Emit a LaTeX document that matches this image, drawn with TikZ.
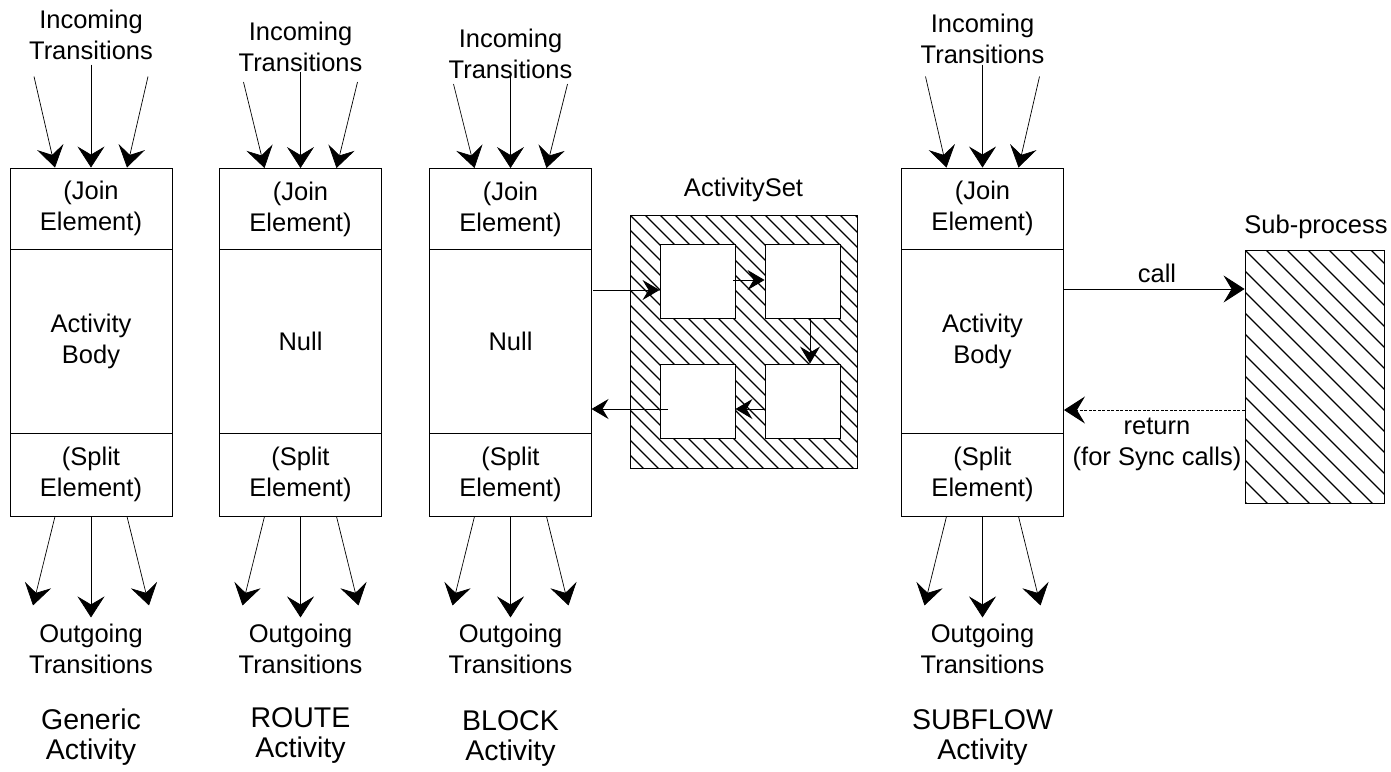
\documentclass[tikz,border=0pt]{standalone}
\usepackage{fontspec}
\setmainfont{Liberation Sans}
\usetikzlibrary{arrows.meta,calc}

\tikzset{
  lbl/.style={align=center, inner sep=0pt, font=\fontsize{25.5}{31}\selectfont},
  ttl/.style={align=center, inner sep=0pt, font=\fontsize{28.5}{29.5}\selectfont},
  sect/.style={draw, line width=0.9pt, minimum width=162pt, inner sep=0pt,
    align=center, font=\fontsize{25.5}{31}\selectfont},
  tip/.style={-{Stealth[length=21pt,width=27pt,inset=8pt]}},
  tr/.style={line width=0.7pt, tip},
  smalltr/.style={line width=0.9pt, -{Stealth[length=17pt,width=20pt,inset=6pt]}},
  hatchbox/.style={draw, line width=0.9pt, inner sep=0pt, path picture={
      \foreach \k in {-30,...,30}
        \draw[line width=1.1pt]
          ($(path picture bounding box.north west)+(\k*#1,0)$) -- ++(320,320);}},
  inbox/.style={draw, fill=white, line width=0.9pt, minimum width=75pt,
    minimum height=74pt, inner sep=0pt},
}

% fan of three incoming transitions onto the top of a join section
\newcommand{\fanin}[3]{%
  \coordinate (#1-s1) at ($(#1.north)+(-57,-#2)$);
  \coordinate (#1-s2) at ($(#1.north)+(0,-#3)$);
  \coordinate (#1-s3) at ($(#1.north)+(57,-#2)$);
  \draw[tr] (#1-s1) -- ($(#1.north)+(-36,0)$);
  \draw[tr] (#1-s2) -- (#1.north);
  \draw[tr] (#1-s3) -- ($(#1.north)+(36,0)$);
}
% fan of three outgoing transitions from the bottom of a split section
\newcommand{\fanout}[1]{%
  \coordinate (#1-e1) at ($(#1.south)+(-58,89)$);
  \coordinate (#1-e2) at ($(#1.south)+(0,101)$);
  \coordinate (#1-e3) at ($(#1.south)+(58,89)$);
  \draw[tr] ($(#1.south)+(-36,0)$) -- (#1-e1);
  \draw[tr] (#1.south) -- (#1-e2);
  \draw[tr] ($(#1.south)+(36,0)$) -- (#1-e3);
}

\begin{document}
\begin{tikzpicture}[x=1pt,y=-1pt]
\useasboundingbox (0,0) rectangle (1391,771);

% ---------- Generic activity ----------
\node[sect, minimum height=81pt] (join1) at (91,208.5) {(Join\\Element)};
\node[sect, minimum height=184pt] (body1) at (91,341) {Activity\\Body};
\node[sect, minimum height=83pt] (split1) at (91,474.5) {(Split\\Element)};
\node[lbl, anchor=base] (in1) at (91,59) {Incoming\\Transitions};
\node[lbl, anchor=base] (out1) at (91,673) {Outgoing\\Transitions};
\node[ttl, anchor=base] (t1) at (91,759) {Generic\\Activity};
\fanin{join1}{91}{103}
\fanout{split1}

% ---------- ROUTE activity ----------
\node[sect, minimum height=81pt] (join2) at (300.5,209) {(Join\\Element)};
\node[sect, minimum height=184pt] (body2) at (300.5,341.5) {Null};
\node[sect, minimum height=83pt] (split2) at (300.5,474.5) {(Split\\Element)};
\node[lbl, anchor=base] (in2) at (300.5,71) {Incoming\\Transitions};
\node[lbl, anchor=base] (out2) at (300.5,673) {Outgoing\\Transitions};
\node[ttl, anchor=base] (t2) at (300.5,757) {ROUTE\\Activity};
\fanin{join2}{86}{96}
\fanout{split2}

% ---------- BLOCK activity ----------
\node[sect, minimum height=81pt] (join3) at (510.5,209) {(Join\\Element)};
\node[sect, minimum height=184pt] (body3) at (510.5,341.5) {Null};
\node[sect, minimum height=83pt] (split3) at (510.5,474.5) {(Split\\Element)};
\node[lbl, anchor=base] (in3) at (510.5,78) {Incoming\\Transitions};
\node[lbl, anchor=base] (out3) at (510.5,673) {Outgoing\\Transitions};
\node[ttl, anchor=base] (t3) at (510.5,760) {BLOCK\\Activity};
\fanin{join3}{84}{92}
\fanout{split3}

% ---------- ActivitySet ----------
\node[hatchbox=15, minimum width=227pt, minimum height=253pt] (aset) at (743.5,341.5) {};
\node[lbl, anchor=base] (asetlbl) at (743.5,196) {ActivitySet};
\node[inbox] (s1) at (697.5,281) {};
\node[inbox] (s2) at (802.5,281) {};
\node[inbox] (s3) at (697.5,401) {};
\node[inbox] (s4) at (802.5,401) {};
\coordinate (blkin) at (593,290);
\coordinate (blkout) at (591.5,409);
\coordinate (s1r) at (733,280);
\coordinate (s3i) at (668,409);
\draw[smalltr] (blkin) -- (s1.west |- blkin);
\draw[smalltr] (s1r) -- (s2.west |- s1r);
\draw[smalltr] ($(s2.south)+(7.5,0)$) -- ($(s4.north)+(7.5,0)$);
\draw[smalltr] ($(s4.west)+(0,8)$) -- ($(s3.east)+(0,8)$);
\draw[smalltr] (s3i) -- (blkout);

% ---------- SUBFLOW activity ----------
\node[sect, minimum height=81pt] (join4) at (982.5,208.5) {(Join\\Element)};
\node[sect, minimum height=184pt] (body4) at (982.5,341) {Activity\\Body};
\node[sect, minimum height=83pt] (split4) at (982.5,474.5) {(Split\\Element)};
\node[lbl, anchor=base] (in4) at (982.5,63) {Incoming\\Transitions};
\node[lbl, anchor=base] (out4) at (982.5,673) {Outgoing\\Transitions};
\node[ttl, anchor=base] (t4) at (982.5,759) {SUBFLOW\\Activity};
\fanin{join4}{91}{103}
\fanout{split4}

% ---------- Sub-process ----------
\node[hatchbox=21, minimum width=139pt, minimum height=253pt] (sub) at (1314.5,376.5) {};
\node[lbl, anchor=base] (sublbl) at (1316,233) {Sub-process};
\coordinate (callto) at (sub.west |- 0,289);
\coordinate (retfrom) at (sub.west |- 0,410);
\draw[tr, line width=0.9pt] (body4.east |- callto) -- (callto);
\draw[tr, line width=0.9pt, dash pattern=on 3pt off 1.5pt] (retfrom) -- (body4.east |- retfrom);
\node[lbl, anchor=base] (calllbl) at (1157,282) {call};
\node[lbl, anchor=base] (retlbl) at (1157,465) {return\\(for Sync calls)};
\end{tikzpicture}
\end{document}
